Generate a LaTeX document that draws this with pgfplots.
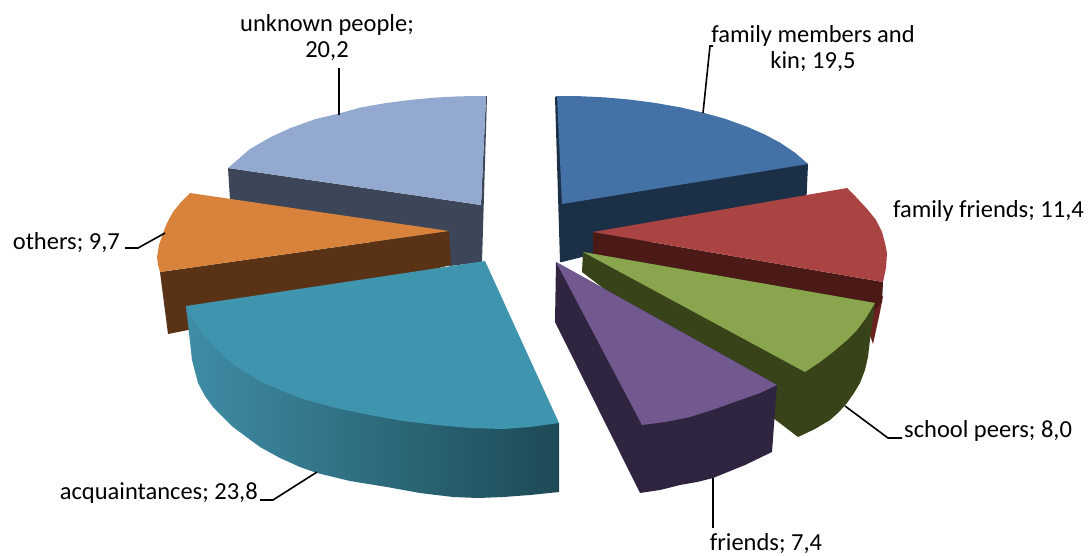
\documentclass[border=0pt]{standalone}
\usepackage{fontspec}
\setmainfont{Carlito}
\usepackage{pgfplots}
\pgfplotsset{compat=1.18}
\definecolor{blueT}{HTML}{4472A6}
\definecolor{blueD}{HTML}{1B2F47}
\definecolor{redT}{HTML}{A94442}
\definecolor{redD}{HTML}{4B1A17}
\definecolor{redS}{HTML}{6A2220}
\definecolor{greenT}{HTML}{89A54E}
\definecolor{greenD}{HTML}{384319}
\definecolor{purpleT}{HTML}{71588F}
\definecolor{purpleD}{HTML}{2F2540}
\definecolor{tealT}{HTML}{3F94AE}
\definecolor{tealL}{HTML}{3F8DA6}
\definecolor{tealM}{HTML}{2E6B7E}
\definecolor{tealR}{HTML}{1D4A55}
\definecolor{orangeT}{HTML}{D8823B}
\definecolor{orangeD}{HTML}{5A3317}
\definecolor{lightT}{HTML}{93A9CF}
\definecolor{lightD}{HTML}{3C4658}
\begin{document}
\begin{tikzpicture}
\begin{axis}[
scale only axis,
width=1089pt,
height=555pt,
xmin=0, xmax=1089,
ymin=0, ymax=555,
y dir=reverse,
hide axis,
clip=false,
every axis plot/.append style={draw=none,forget plot},
]
% unknown people
\addplot[fill=lightD] coordinates {(228,168)(481,205)(486,96)(487,96)(482,262)(450,266)(230,200)} -- cycle;
\addplot[fill=lightT] coordinates {(486,96)(460,96.3)(435,97.6)(410,99.9)(385,103.2)(360,107.6)(339,113.5)(315,119.2)(290,128.2)(270,137.4)(250,149)(228,168)(481,205)} -- cycle;
% others
\addplot[fill=orangeD] coordinates {(449,231)(160,272)(168,334)(188,330)(451,265)} -- cycle;
\addplot[fill=orangeT] coordinates {(449,231)(190,193)(181,202)(173,212)(167,223)(163,233)(159,245)(157,257)(158,265)(160,272)} -- cycle;
% acquaintances
\addplot[left color=tealL,middle color=tealM,right color=tealR] coordinates {(186,306)(189,333)(192,360)(198,383)(205,396)(213,407)(233,427)(260,447)(280,458)(300,467)(317,473)(350,481)(387,487)(420,493)(453,497)(478,498)(503,497)(530,495)(559,492)(559,423)} -- cycle;
\addplot[fill=tealT] coordinates {(485,261)(186,306)(194,321)(203,334)(213,346)(235,366)(260,381)(280,390)(303,399)(336,408)(370,415)(403,421)(437,425)(470,428)(503,429)(530,427)(559,423)} -- cycle;
% family members and kin
\addplot[fill=blueD] coordinates {(555,97)(557,96)(808,164)(806,210)(590,255)(562,262)(560,262)} -- cycle;
\addplot[fill=blueT] coordinates {(557,96)(580,96.2)(605,97.4)(630,99.6)(655,102.9)(680,107.3)(703,112.6)(725,118.8)(747,126.7)(765,134.6)(780,142.6)(795,152.6)(808,164)(562,204)} -- cycle;
% family friends
\addplot[fill=redS] coordinates {(883,296)(880,312)(873,344)(868,330)(872,300)} -- cycle;
\addplot[fill=redD] coordinates {(593,232)(883,282)(882,302)(875,310)(593,262)} -- cycle;
\addplot[fill=redT] coordinates {(593,232)(847,188)(856,197)(868,210)(876,220)(882,232)(885,243)(887,253)(886,268)(883,282)} -- cycle;
% school peers
\addplot[fill=greenD] coordinates {(583,252)(582,272)(798,437)(815,429)(830,420)(839,412)(847,403)(854,393)(860,383)(865,370)(868,357)(870,340)(875,303)} -- cycle;
\addplot[fill=greenT] coordinates {(583,252)(875,303)(866,318)(857,330)(846,341)(833,352)(820,362)(805,372)} -- cycle;
% friends
\addplot[fill=purpleD] coordinates {(556,262)(555,322)(640,493)(660,490)(680,485)(697,482)(713,478)(745,465)(772,452)(777,385)} -- cycle;
\addplot[fill=purpleT] coordinates {(556,262)(777,385)(760,393)(740,400)(715,409)(690,417)(665,422)(642,425)} -- cycle;
% leader lines
\addplot[draw=black,line width=1.6pt] coordinates {(703,113)(710,46)(713,46)};
\addplot[draw=black,line width=1.6pt] coordinates {(339,115)(339,68)};
\addplot[draw=black,line width=1.6pt] coordinates {(165,233)(138,248)(125,248)};
\addplot[draw=black,line width=1.6pt] coordinates {(845,406)(888,438)(902,438)};
\addplot[draw=black,line width=1.6pt] coordinates {(317,472)(273,500)(260,500)};
\addplot[draw=black,line width=1.6pt] coordinates {(713,478)(713,528)};
% labels
\begin{scope}[every node/.style={font=\fontsize{24.5}{26}\selectfont,inner sep=0pt,align=center}]
\node at (axis cs:813,49) {family members and\\kin; 19,5};
\node at (axis cs:327,38) {unknown people;\\20,2};
\node[anchor=east] at (axis cs:1084,211) {family friends; 11,4};
\node[anchor=east] at (axis cs:120,243) {others; 9,7};
\node[anchor=west] at (axis cs:904,431) {school peers; 8,0};
\node at (axis cs:766,544) {friends; 7,4};
\node[anchor=east] at (axis cs:258,493) {acquaintances; 23,8};
\end{scope}
\end{axis}
\pgfresetboundingbox
\path[use as bounding box] (0,0) rectangle (1089pt,555pt);
\end{tikzpicture}
\end{document}
